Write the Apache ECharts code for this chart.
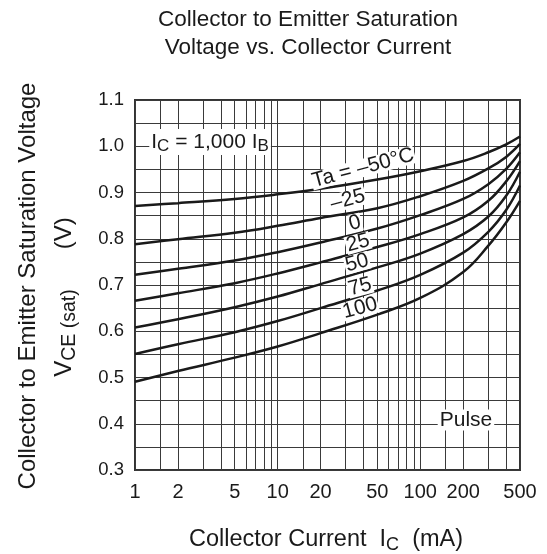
<!DOCTYPE html>
<html>
<head>
<meta charset="utf-8">
<script src="https://cdn.jsdelivr.net/npm/echarts@6/dist/echarts.min.js"></script>
<style>html,body{margin:0;padding:0;background:#fff;}#c{width:547px;height:554px;}</style>
</head>
<body>
<div id="c"></div>
<script>
// Collector current (mA) sample points
const currents = [1, 2, 5, 10, 20, 50, 100, 200, 300, 400, 500];
// VCE(sat) values (V) per ambient temperature
const tempNames = ['-50', '-25', '0', '25', '50', '75', '100'];
const vM50 = [0.871, 0.877, 0.886, 0.896, 0.908, 0.928, 0.946, 0.968, 0.987, 1.004, 1.021];
const vM25 = [0.788, 0.799, 0.813, 0.828, 0.845, 0.866, 0.892, 0.925, 0.952, 0.977, 1.005];
const v0   = [0.722, 0.735, 0.753, 0.771, 0.792, 0.822, 0.851, 0.886, 0.918, 0.951, 0.987];
const v25  = [0.666, 0.682, 0.704, 0.725, 0.749, 0.782, 0.810, 0.846, 0.882, 0.924, 0.968];
const v50  = [0.608, 0.626, 0.652, 0.675, 0.702, 0.738, 0.768, 0.810, 0.848, 0.893, 0.945];
const v75  = [0.551, 0.572, 0.598, 0.622, 0.650, 0.688, 0.722, 0.770, 0.815, 0.862, 0.915];
const v100 = [0.491, 0.514, 0.543, 0.567, 0.596, 0.636, 0.672, 0.728, 0.785, 0.835, 0.882];
const seriesValues = [vM50, vM25, v0, v25, v50, v75, v100];
// curve label texts and their anchor (data coordinates)
const curveLabels = ['Ta = \u201350\u00b0C', '\u201325', '0', '25', '50', '75', '100'];
const labelX = [39.7, 31, 34.8, 36.6, 36, 37.8, 37.8];
const labelY = [0.953, 0.884, 0.834, 0.791, 0.748, 0.696, 0.650];
// axis ticks / gridlines
const xTickLabels = [1, 2, 5, 10, 20, 50, 100, 200, 500];
const xGridValues = [1, 1.5, 2, 3, 4, 5, 6, 7, 8, 9, 10, 15, 20, 30, 40, 50, 60, 70, 80, 90, 100, 150, 200, 300, 400, 500];
const yMin = 0.3, yMax = 1.1, yGridStep = 0.05;

const chart = echarts.init(document.getElementById('c'));
const FONT = 'Liberation Sans, Arial, sans-serif';
const INK = '#1a1a1a';
const series = seriesValues.map((vals, i) => ({
  name: tempNames[i],
  type: 'line',
  smooth: 0.4,
  symbol: 'none',
  lineStyle: {color: INK, width: 2.5},
  data: currents.map((c, j) => [c, vals[j]]),
  z: 3,
  markPoint: {
    symbol: 'circle', symbolSize: 0,
    silent: true,
    data: [{coord: [labelX[i], labelY[i]]}],
    label: {
      show: true, position: 'inside', formatter: curveLabels[i], rotate: 15,
      color: INK, fontSize: 21, fontFamily: FONT,
      backgroundColor: '#fff', padding: [-1, 1, -2, 1]
    }
  }
}));
// annotation-only series (IC = 1000 IB, Pulse)
series.push({
  type: 'scatter', data: [], silent: true,
  markPoint: {
    symbol: 'circle', symbolSize: 0, silent: true,
    data: [
      {coord: [3.36, 1.009], label: {formatter: '{a|I}{s|C}{a| = 1,000 I}{s|B}'}},
      {coord: [209, 0.408], label: {formatter: '{a|Pulse}'}}
    ],
    label: {
      show: true, position: 'inside', backgroundColor: '#fff', padding: [0, 2, 0, 2],
      rich: {
        a: {fontSize: 21, fontFamily: FONT, color: INK},
        s: {fontSize: 17, fontFamily: FONT, color: INK, verticalAlign: 'bottom', padding: [9, 0, 0, 0]}
      }
    }
  }
});

chart.setOption({
  animation: false,
  backgroundColor: '#fff',
  title: {
    text: 'Collector to Emitter Saturation\nVoltage vs. Collector Current',
    left: 303, top: 1, textAlign: 'center',
    textStyle: {fontSize: 22.5, fontWeight: 'normal', color: INK, fontFamily: FONT, lineHeight: 28}
  },
  grid: {left: 135, right: 27, top: 100, bottom: 84, show: true, borderColor: '#333', borderWidth: 2, backgroundColor: 'transparent'},
  xAxis: {
    type: 'log', logBase: 10, min: 1, max: 500,
    axisLine: {show: false},
    axisTick: {show: false, customValues: xGridValues},
    splitLine: {show: true, lineStyle: {color: '#3a3a3a', width: 1}},
    minorTick: {show: false}, minorSplitLine: {show: false},
    axisLabel: {customValues: xTickLabels, margin: 12, fontSize: 20, fontFamily: FONT, color: INK, formatter: v => String(v)}
  },
  yAxis: {
    type: 'value', min: yMin, max: yMax, interval: yGridStep,
    axisLine: {show: false}, axisTick: {show: false},
    splitLine: {show: true, lineStyle: {color: '#3a3a3a', width: 1}},
    axisLabel: {margin: 11, fontSize: 18.5, fontFamily: FONT, color: INK,
      formatter: v => (Math.round(v * 100) % 10 === 0 ? v.toFixed(1) : '')}
  },
  graphic: [
    {type: 'text', x: 326, y: 526, style: {
      text: '{a|Collector Current  I}{s|C}{a|  (mA)}', align: 'center',
      rich: {a: {fontSize: 23.5, fontFamily: FONT, fill: INK}, s: {fontSize: 18, fontFamily: FONT, fill: INK, verticalAlign: 'bottom', padding: [10, 0, 0, 0]}}
    }},
    {type: 'text', x: 16, y: 286, rotation: Math.PI / 2, style: {
      text: 'Collector to Emitter Saturation Voltage', align: 'center', verticalAlign: 'top',
      fontSize: 24, fontFamily: FONT, fill: INK
    }},
    {type: 'text', x: 49, y: 297, rotation: Math.PI / 2, style: {
      text: '{a|V}{s|CE (sat)}{a|      (V)}', align: 'center', verticalAlign: 'top',
      rich: {a: {fontSize: 24, fontFamily: FONT, fill: INK}, s: {fontSize: 19.5, fontFamily: FONT, fill: INK, verticalAlign: 'bottom', padding: [11, 0, 0, 0]}}
    }}
  ],
  series: series
});
</script>
</body>
</html>
